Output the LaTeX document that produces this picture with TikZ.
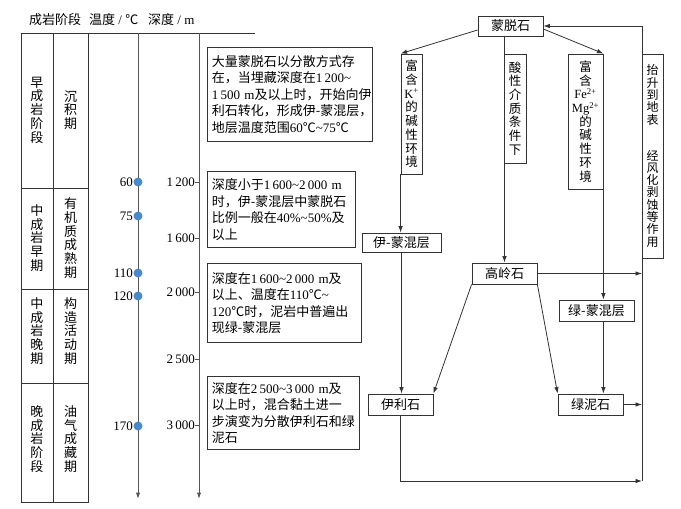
\documentclass[tikz,border=0pt]{standalone}
\usepackage{fontspec}
\setmainfont{Noto Sans CJK SC}
\newfontfamily\tm{Liberation Serif}
\usetikzlibrary{arrows.meta,calc}
\definecolor{dotblue}{HTML}{4A8ACB}
\definecolor{axisgray}{HTML}{555555}
\definecolor{linec}{HTML}{333333}
\newcommand{\tild}{{\tm\textasciitilde}}
\newcommand{\hy}{\mbox{-}}
\begin{document}
\begin{tikzpicture}[x=1pt,y=-1pt,
  every node/.style={inner sep=0pt},
  tbl/.style={draw=linec, line width=0.9pt},
  ln/.style={draw=linec, line width=0.8pt},
  arr/.style={ln, -{Latex[length=6.5pt,width=4.5pt]}},
  axisln/.style={draw=axisgray, line width=1pt, -{Latex[length=6.5pt,width=4.5pt]}},
  tick/.style={draw=axisgray, line width=0.8pt},
  fbox/.style={draw=linec, line width=0.8pt, font=\fontsize{13}{15}\selectfont},
  vbox/.style={draw=linec, line width=0.8pt, align=center, font=\fontsize{12.5}{13.7}\selectfont},
  tbox/.style={draw=linec, line width=0.8pt, anchor=north west, align=left, inner xsep=4.5pt, font=\fontsize{13}{16.5}\selectfont},
  vtxt/.style={align=center, font=\fontsize{13}{13.75}\selectfont},
  hdr/.style={anchor=west, font=\fontsize{13}{15}\selectfont},
  num/.style={font=\tm\fontsize{13}{15}\selectfont},
  dot/.style={circle, fill=dotblue, minimum size=9pt}
]
\useasboundingbox (0,0) rectangle (681,509);

% header
\node[hdr] (h1) at (29,20) {成岩阶段};
\node[hdr] (h2) at (89,20) {温度{\tm\ / }℃};
\node[hdr] (h3) at (148,20) {深度{\tm\ / m}};

% table
\draw[tbl] (21,33) -- (255,33);
\draw[tbl] (21,33) -- (21,502) -- (88,502) -- (88,33);
\draw[tbl] (53,33) -- (53,502);
\foreach \yy in {188,289,383} \draw[tbl] (21,\yy) -- (88,\yy);

\node[vtxt] (s1a) at (37,110) {早\\成\\岩\\阶\\段};
\node[vtxt] (s1b) at (70.5,110) {沉\\积\\期};
\node[vtxt] (s2a) at (37,238) {中\\成\\岩\\早\\期};
\node[vtxt] (s2b) at (70.5,238) {有\\机\\质\\成\\熟\\期};
\node[vtxt] (s3a) at (37,331) {中\\成\\岩\\晚\\期};
\node[vtxt] (s3b) at (70.5,331) {构\\造\\活\\动\\期};
\node[vtxt] (s4a) at (37,439) {晚\\成\\岩\\阶\\段};
\node[vtxt] (s4b) at (70.5,439) {油\\气\\成\\藏\\期};

% axes
\coordinate (tTop) at (138,33);
\coordinate (tBot) at (138,499);
\coordinate (dTop) at (199,33);
\coordinate (dBot) at (199,499);
\draw[axisln] (tTop) -- (tBot);
\draw[axisln] (dTop) -- (dBot);

\foreach \v/\yy in {60/182,75/216,110/273,120/296,170/426}{
  \node[dot] (t\v) at (138,\yy) {};
  \node[num, anchor=east] (tl\v) at (133,\yy) {\v};
}
\foreach \n/\lab/\yy in {a/1\,200/182,b/1\,600/238,c/2\,000/292,d/2\,500/359,e/3\,000/425}{
  \draw[tick] (195,\yy) -- (199,\yy);
  \node[num, anchor=east] (dl\n) at (195,\yy) {\lab};
}

% text boxes
\node[tbox, text width=156pt, minimum height=94pt] (b1) at (207,47) {大量蒙脱石以分散方式存\\
在，当埋藏深度在{\tm 1\,200\tild}\\
{\tm 1\,500~m}及以上时，开始向伊\\
利石转化，形成伊\hy 蒙混层，\\
地层温度范围{\tm 60}℃\tild{\tm 75}℃};
\node[tbox, text width=139pt, minimum height=76pt] (b2) at (207,171) {深度小于{\tm 1\,600\tild 2\,000~m}\\
时，伊\hy 蒙混层中蒙脱石\\
比例一般在{\tm 40\%\tild 50\%}及\\
以上};
\node[tbox, text width=145pt, minimum height=79pt] (b3) at (207,263) {深度在{\tm 1\,600\tild 2\,000~m}及\\
以上、温度在{\tm 110}℃\tild\\
{\tm 120}℃时，泥岩中普遍出\\
现绿\hy 蒙混层};
\node[tbox, text width=143pt, minimum height=73pt] (b4) at (207,376) {深度在{\tm 2\,500\tild 3\,000~m}及\\
以上时，混合黏土进一\\
步演变为分散伊利石和绿\\
泥石};

% flowchart
\node[fbox, minimum width=65pt, minimum height=20pt] (mont) at (510.5,26) {蒙脱石};
\node[vbox, minimum width=21pt, minimum height=120pt] (kbox) at (411.5,114) {富\\含\\{\tm K\textsuperscript{+}}\\的\\碱\\性\\环\\境};
\node[vbox, minimum width=22pt, minimum height=109pt] (acid) at (515,108.5) {酸\\性\\介\\质\\条\\件\\下};
\node[vbox, minimum width=35pt, minimum height=135pt] (fe) at (585.5,121.5) {富\\含\\{\tm Fe\textsuperscript{2+}}\\{\tm Mg\textsuperscript{2+}}\\的\\碱\\性\\环\\境};
\node[vbox, minimum width=21pt, minimum height=204pt, font=\fontsize{12}{12.3}\selectfont] (lift) at (652.5,156) {抬\\升\\到\\地\\表\\[23.7pt]经\\风\\化\\剥\\蚀\\等\\作\\用};
\node[fbox, minimum width=79pt, minimum height=19pt] (im) at (401.5,242.5) {伊\hy 蒙混层};
\node[fbox, minimum width=65pt, minimum height=21pt] (kao) at (504.5,273.5) {高岭石};
\node[fbox, minimum width=75pt, minimum height=21pt] (gm) at (596.5,310.5) {绿\hy 蒙混层};
\node[fbox, minimum width=65pt, minimum height=21pt] (ill) at (400.5,404.5) {伊利石};
\node[fbox, minimum width=65pt, minimum height=21pt] (chl) at (590.5,404.5) {绿泥石};

\coordinate (rtop) at (642,26);
\coordinate (rbot) at (642,481);

\draw[arr] ([yshift=-4pt]mont.west) -- (kbox.north west);
\draw[arr] ([yshift=-3pt]mont.east) -- (fe.north east);
\draw[arr] (rbot) -- (rtop) -- (mont.east);
\draw[arr] (mont.south -| kao.north) -- (kao.north);
\draw[arr] (kbox.south west) -- (kbox.south west |- im.north);
\draw[arr] (fe.south east) -- (fe.south east |- gm.north);
\draw[arr] (im.south) -- (im.south |- ill.north);
\draw[arr] (kao.south west) -- (ill.north east);
\draw[arr] (kao.south east) -- (chl.north west);
\draw[arr] (fe.south east |- gm.south) -- (fe.south east |- chl.north);
\draw[arr] (kao.east) -- (kao.east -| rbot);
\draw[arr] (chl.east) -- (chl.east -| rbot);
\draw[arr] (ill.south) |- (rbot);
\end{tikzpicture}
\end{document}
